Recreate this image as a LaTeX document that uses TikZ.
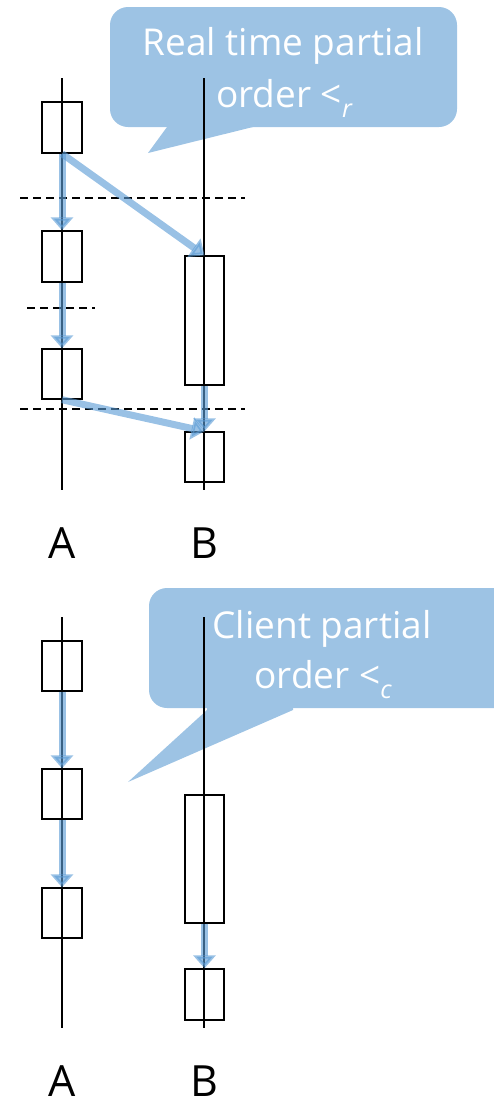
\documentclass[tikz,border=0pt]{standalone}
\usepackage{fontspec}
\setmainfont{Open Sans}
\usetikzlibrary{arrows.meta}
\definecolor{callout}{RGB}{157,195,228}
\definecolor{arrowblue}{RGB}{91,155,213}
\newcommand{\lowsub}[1]{\raisebox{-0.28em}{\fontsize{25}{25}\selectfont\itshape #1}}
\tikzset{
  opbox/.style={draw=black, line width=1.4pt, minimum width=40pt, inner sep=0pt},
  timeline/.style={draw=black, line width=1.3pt},
  sep/.style={draw=black, line width=1.2pt, dash pattern=on 8pt off 5pt},
  order/.style={draw=arrowblue, draw opacity=0.62, fill opacity=0.62, line width=7pt,
     -{Triangle[width=22pt,length=13pt,fill=arrowblue]}},
  bubble/.style={fill=callout, draw=none},
  bubbletext/.style={text=white, font=\fontsize{37}{44}\selectfont, inner sep=0pt, anchor=base},
  proc/.style={font=\fontsize{43}{45}\selectfont, inner sep=0pt}
}
\begin{document}
\begin{tikzpicture}[x=1pt,y=-1pt]
\useasboundingbox (0,0) rectangle (493,1101);
% ---------- top panel ----------
\fill[bubble, rounded corners=18pt] (110,7) rectangle (457,127);
\fill[bubble] (167,120) -- (167,127) -- (148,153) -- (253,127) -- (253,120) -- cycle;
\node[bubbletext] (t1a) at (283,55) {Real time partial};
\node[bubbletext] (t1b) at (284,107) {order <\lowsub{r}};

\coordinate (ta0) at (62,78);  \coordinate (ta1) at (62,490);
\coordinate (tb0) at (204,78); \coordinate (tb1) at (204,490);
\draw[timeline] (ta0) -- (ta1);
\draw[timeline] (tb0) -- (tb1);

\node[opbox, minimum height=51pt] (tA1) at (62,127.5) {};
\node[opbox, minimum height=51pt] (tA2) at (62,256.5) {};
\node[opbox, minimum height=50pt] (tA3) at (62,374) {};
\node[opbox, minimum width=39pt, minimum height=129pt] (tB1) at (204.5,320.5) {};
\node[opbox, minimum width=39pt, minimum height=50pt] (tB2) at (204.5,457) {};

\coordinate (d1a) at (20,198);  \coordinate (d1b) at (245,198);
\coordinate (d2a) at (27,308);  \coordinate (d2b) at (95,308);
\coordinate (d3a) at (20,409);  \coordinate (d3b) at (245,409);
\draw[sep] (d1a) -- (d1b);
\draw[sep] (d2a) -- (d2b);
\draw[sep] (d3a) -- (d3b);

\draw[order] (tA1.south) -- (tA2.north);
\draw[order] (tA2.south) -- (tA3.north);
\draw[order] (tA1.south) -- (tB1.north);
\draw[order] (tA3.south) -- (tB2.north);
\draw[order] (tB1.south) -- (tB2.north);

\node[proc] (tLA) at (62,543) {A};
\node[proc] (tLB) at (204,543) {B};

% ---------- bottom panel ----------
\fill[bubble, rounded corners=18pt] (149,588) rectangle (515,708);
\fill[bubble] (207,700) -- (207,710) -- (128,782) -- (293,710) -- (293,700) -- cycle;
\node[bubbletext] (t2a) at (322,638) {Client partial};
\node[bubbletext] (t2b) at (323,688) {order <\lowsub{c}};

\coordinate (ba0) at (62,617);  \coordinate (ba1) at (62,1028);
\coordinate (bb0) at (204,617); \coordinate (bb1) at (204,1028);
\draw[timeline] (ba0) -- (ba1);
\draw[timeline] (bb0) -- (bb1);

\node[opbox, minimum height=50pt] (bA1) at (62,666) {};
\node[opbox, minimum height=50pt] (bA2) at (62,794) {};
\node[opbox, minimum height=50pt] (bA3) at (62,913) {};
\node[opbox, minimum width=39pt, minimum height=128pt] (bB1) at (204.5,859) {};
\node[opbox, minimum width=39pt, minimum height=51pt] (bB2) at (204.5,994.5) {};

\draw[order] (bA1.south) -- (bA2.north);
\draw[order] (bA2.south) -- (bA3.north);
\draw[order] (bB1.south) -- (bB2.north);

\node[proc] (bLA) at (62,1081) {A};
\node[proc] (bLB) at (204,1081) {B};
\end{tikzpicture}
\end{document}
